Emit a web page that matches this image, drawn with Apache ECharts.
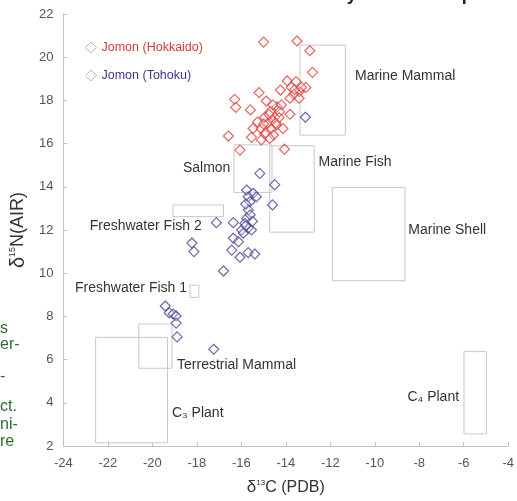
<!DOCTYPE html>
<html>
<head>
<meta charset="utf-8">
<script src="https://cdn.jsdelivr.net/npm/echarts@6/dist/echarts.min.js"></script>
<style>
  html, body { margin: 0; padding: 0; background: #fff; }
  #chart { width: 517px; height: 501px; }
</style>
</head>
<body>
<div id="chart"></div>
<script>
  // Jomon (Hokkaido) — [d13C, d15N]
  const hokkaido = [
    [-15.0, 20.7], [-13.5, 20.75], [-12.92, 20.3], [-12.8, 19.3], [-13.94, 18.9],
    [-13.54, 18.87], [-13.1, 18.6], [-13.75, 18.6], [-13.4, 18.4], [-14.24, 18.48],
    [-15.2, 18.36], [-13.64, 18.28], [-13.81, 18.1], [-13.4, 18.1], [-16.3, 18.05],
    [-14.88, 17.97], [-16.25, 17.68], [-15.59, 17.56], [-14.39, 17.7], [-14.58, 17.79],
    [-14.2, 17.79], [-14.7, 17.48], [-14.28, 17.48], [-13.81, 17.36], [-14.95, 17.22],
    [-14.5, 17.22], [-15.27, 17.0], [-14.8, 16.94], [-14.43, 16.86], [-15.47, 16.7],
    [-15.1, 16.68], [-14.65, 16.68], [-14.13, 16.7], [-16.58, 16.35], [-15.54, 16.29],
    [-14.95, 16.44], [-14.55, 16.4], [-14.72, 16.24], [-15.1, 16.17], [-16.06, 15.7],
    [-14.06, 15.74], [-14.6, 17.1], [-14.9, 16.5], [-14.3, 17.2], [-14.75, 17.35],
    [-14.45, 16.95], [-15.0, 16.9], [-13.6, 18.5], [-13.3, 18.6]
  ]
  // Jomon (Tohoku)
  const tohoku = [
    [-13.12, 17.22], [-15.17, 14.62], [-14.5, 14.1], [-15.76, 13.85], [-15.47, 13.7],
    [-15.69, 13.54], [-15.32, 13.54], [-15.61, 13.31], [-14.6, 13.16], [-15.69, 12.93],
    [-15.76, 12.54], [-15.84, 12.31], [-16.36, 12.34], [-17.12, 12.34], [-15.69, 12.08],
    [-15.99, 12.0], [-15.54, 12.0], [-16.36, 11.62], [-15.91, 11.85], [-16.13, 11.46],
    [-16.43, 11.07], [-15.69, 10.95], [-15.39, 10.89], [-16.06, 10.74], [-16.8, 10.1],
    [-18.22, 11.4], [-18.13, 11.0], [-19.42, 8.48], [-19.24, 8.16], [-19.07, 8.11],
    [-18.93, 8.02], [-18.93, 7.69], [-18.89, 7.05], [-17.24, 6.48],
    [-15.8, 13.2], [-15.6, 12.7], [-15.8, 12.2], [-15.5, 12.4]
  ]
  // reference food groups: [xMin, yMin, xMax, yMax]
  const regionNames = ['Marine Mammal', 'Salmon', 'Marine Fish', 'Marine Shell',
    'Freshwater Fish 2', 'Freshwater Fish 1', 'Terrestrial Mammal', 'C₃ Plant', 'C₄ Plant']
  const regionBoxes = [
    [-13.36, 16.39, -11.32, 20.56],
    [-16.33, 13.74, -14.62, 15.94],
    [-14.72, 11.9, -12.72, 15.9],
    [-11.91, 9.65, -8.64, 13.96],
    [-19.07, 12.62, -16.8, 13.16],
    [-18.31, 8.88, -17.91, 9.45],
    [-20.61, 5.6, -19.12, 7.65],
    [-22.55, 2.15, -19.32, 7.03],
    [-5.99, 2.56, -4.98, 6.37]
  ]
  const regionLabelAt = [
    [-10.89, 19.13], [-16.49, 14.87], [-12.53, 15.15], [-8.49, 12.0],
    [-17.78, 12.19], [-18.44, 9.31], [-18.89, 5.75], [-19.12, 3.51], [-6.21, 4.25]
  ]
  const regionLabelSide = ['left', 'right', 'left', 'left', 'right', 'right', 'left', 'left', 'right']
  const xTicks = { min: -24, max: -4, interval: 2 }
  const yTicks = { min: 2, max: 22, interval: 2 }

  const myChart = echarts.init(document.getElementById('chart'))
  const font = '"Liberation Sans", Arial, sans-serif'
  const green = '#2f6a2f'

  const axisCommon = {
    axisLine: { show: true, lineStyle: { color: '#c4c4c4' } },
    axisTick: { show: true, inside: true, length: 4, lineStyle: { color: '#c4c4c4' } },
    splitLine: { show: false }
  }

  const option = {
    backgroundColor: '#fff',
    animation: false,
    title: {
      text: 'in Hokkaido and Tohoku by stable isotope',
      left: 118,
      top: -19,
      textStyle: { fontSize: 18, fontWeight: 'bold', color: '#222', fontFamily: font }
    },
    graphic: [
      { type: 'text', left: 0, top: 321, style: { text: 's', fill: green, font: '16px ' + font } },
      { type: 'text', left: 0, top: 337, style: { text: 'er-', fill: green, font: '16px ' + font } },
      { type: 'text', left: 0, top: 369, style: { text: '-', fill: green, font: '16px ' + font } },
      { type: 'text', left: 0, top: 399, style: { text: 'ct.', fill: green, font: '16px ' + font } },
      { type: 'text', left: 0, top: 417, style: { text: 'ni-', fill: green, font: '16px ' + font } },
      { type: 'text', left: 0, top: 434, style: { text: 're', fill: green, font: '16px ' + font } }
    ],
    grid: { left: 63, right: 4, top: 14, bottom: 55 },
    legend: {
      orient: 'vertical',
      left: 80,
      top: 36,
      itemGap: 15,
      itemWidth: 11,
      itemHeight: 11,
      textStyle: { fontSize: 12.5, fontFamily: font },
      data: [
        { name: 'Jomon (Hokkaido)', icon: 'diamond',
          itemStyle: { color: '#fff', borderColor: '#aaa', borderWidth: 1 },
          textStyle: { color: '#d83a3a' } },
        { name: 'Jomon (Tohoku)', icon: 'diamond',
          itemStyle: { color: '#fff', borderColor: '#aaa', borderWidth: 1 },
          textStyle: { color: '#3a3a8a' } }
      ]
    },
    xAxis: Object.assign({}, axisCommon, {
      type: 'value',
      min: xTicks.min, max: xTicks.max, interval: xTicks.interval,
      name: '{d|δ}{s|13}{n|C (PDB)}',
      nameLocation: 'middle',
      nameGap: 33,
      nameTextStyle: {
        rich: {
          d: { fontSize: 17, color: '#333', fontFamily: font },
          s: { fontSize: 8, color: '#333', verticalAlign: 'top', fontFamily: font },
          n: { fontSize: 16, color: '#333', fontFamily: font }
        }
      },
      axisLabel: { color: '#555', fontSize: 13, fontFamily: font, margin: 11 }
    }),
    yAxis: Object.assign({}, axisCommon, {
      type: 'value',
      min: yTicks.min, max: yTicks.max, interval: yTicks.interval,
      name: '{d|δ}{s|15}{n|N(AIR)}',
      nameLocation: 'middle',
      nameGap: 27,
      nameTextStyle: {
        rich: {
          d: { fontSize: 20, color: '#333', fontFamily: font },
          s: { fontSize: 9, color: '#333', verticalAlign: 'top', fontFamily: font },
          n: { fontSize: 18, color: '#333', fontFamily: font }
        }
      },
      axisLabel: { color: '#555', fontSize: 13, fontFamily: font, margin: 10 }
    }),
    series: [
      {
        name: 'regions',
        type: 'custom',
        silent: true,
        data: regionBoxes,
        renderItem: function (params, api) {
          const p1 = api.coord([api.value(0), api.value(3)])
          const p2 = api.coord([api.value(2), api.value(1)])
          return {
            type: 'rect',
            shape: { x: p1[0], y: p1[1], width: p2[0] - p1[0], height: p2[1] - p1[1] },
            style: { fill: 'none', stroke: '#c8c8c8', lineWidth: 1 }
          }
        }
      },
      {
        name: 'regionLabels',
        type: 'custom',
        silent: true,
        data: regionLabelAt,
        renderItem: function (params, api) {
          const p = api.coord([api.value(0), api.value(1)])
          return {
            type: 'text',
            x: p[0],
            y: p[1],
            style: {
              text: regionNames[params.dataIndex],
              textAlign: regionLabelSide[params.dataIndex],
              textVerticalAlign: 'middle',
              fill: '#333',
              font: '14px ' + font
            }
          }
        }
      },
      {
        name: 'Jomon (Hokkaido)',
        type: 'scatter',
        symbol: 'diamond',
        symbolSize: 10,
        data: hokkaido,
        itemStyle: { color: 'rgba(255,255,255,0.35)', borderColor: '#e0403c', borderWidth: 1.2 }
      },
      {
        name: 'Jomon (Tohoku)',
        type: 'scatter',
        symbol: 'diamond',
        symbolSize: 10,
        data: tohoku,
        itemStyle: { color: 'rgba(255,255,255,0.35)', borderColor: '#46469a', borderWidth: 1.2 }
      }
    ]
  }

  myChart.setOption(option)
</script>
</body>
</html>
